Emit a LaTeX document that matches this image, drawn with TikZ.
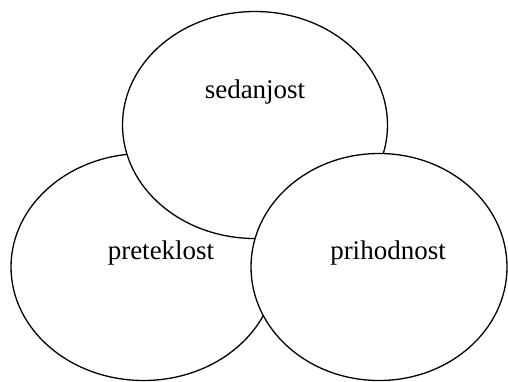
\documentclass[tikz,border=0pt]{standalone}
\usepackage{fontspec}
\setmainfont{Liberation Serif}
\usetikzlibrary{shapes.geometric}
\tikzset{
  period/.style = {ellipse, draw, fill=white, line width=1.3pt,
                   minimum width=265pt, minimum height=227pt},
  periodname/.style = {font=\fontsize{27}{31}\selectfont}
}
\begin{document}
\begin{tikzpicture}[x=1pt,y=-1pt]
            \useasboundingbox (0,0) rectangle (508,381);
            \node [period] (past) at (143.5,267) {};
            \node [period] (present) at (255,125) {};
            \node [period, minimum width=256pt] (future) at (379,267) {};
            \node [periodname] (presenttext) at (255,92) {sedanjost};
            \node [periodname] (pasttext) at (161,253) {preteklost};
            \node [periodname] (futuretext) at (388,253) {prihodnost};
        \end{tikzpicture}
\end{document}
